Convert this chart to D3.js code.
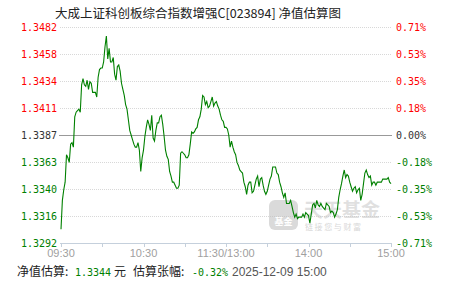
<!DOCTYPE html>
<html>
<head>
<meta charset="utf-8">
<script src="https://cdn.jsdelivr.net/npm/d3@7"></script>
<style>
  html, body { margin: 0; padding: 0; background: #fff; }
  svg { display: block; }
</style>
</head>
<body>
<svg id="chart" width="451" height="281"></svg>
<script>
// fund estimate info
const title = '大成上证科创板综合指数增强C[023894] 净值估算图'
const baseNav = 1.3387
const estNav = '1.3344'
const estPct = '-0.32%'
const estTime = '2025-12-09 15:00'

// y ticks (left = nav, right = pct)
const navTicks = ['1.3482', '1.3458', '1.3434', '1.3411', '1.3387', '1.3363', '1.3340', '1.3316', '1.3292']
const pctTicks = ['0.71%', '0.53%', '0.35%', '0.18%', '0.00%', '-0.18%', '-0.35%', '-0.53%', '-0.71%']
const pctMax = 0.71

// x axis: minute index 0..240 (lunch break collapsed)
const timeLabels = ['09:30', '10:30', '11:30/13:00', '14:00', '15:00']
const timeLabelMinutes = [0, 60, 120, 180, 240]

// estimated change in % for every minute
const pctValues = [
  -0.62, -0.43, -0.36, -0.31, -0.13, -0.15, -0.18, -0.06, -0.05, -0.08,
  0.12, 0.15, 0.16, 0.17, 0.15, 0.33, 0.37, 0.33, 0.32, 0.36,
  0.30, 0.35, 0.34, 0.28, 0.28, 0.28, 0.25, 0.38, 0.43, 0.44,
  0.44, 0.48, 0.58, 0.65, 0.50, 0.57, 0.48, 0.48, 0.51, 0.40,
  0.36, 0.45, 0.46, 0.42, 0.34, 0.30, 0.26, 0.20, 0.17, 0.10,
  0.03, 0.00, -0.03, -0.06, -0.08, -0.08, -0.05, -0.10, -0.24, -0.15,
  -0.10, -0.01, 0.05, 0.10, 0.07, 0.03, 0.13, -0.02, -0.04, 0.03,
  0.08, 0.08, 0.12, 0.13, 0.07, -0.01, -0.10, -0.14, -0.16, -0.24,
  -0.27, -0.31, -0.31, -0.33, -0.35, -0.35, -0.33, -0.12, -0.11, -0.12,
  -0.13, -0.15, -0.15, -0.13, -0.06, 0.02, 0.01, 0.02, 0.04, 0.05,
  0.10, 0.12, 0.17, 0.26, 0.25, 0.20, 0.22, 0.18, 0.19, 0.22,
  0.25, 0.19, 0.21, 0.22, 0.19, 0.17, 0.13, 0.10, 0.09, 0.05,
  0.05, 0.04, 0.00, -0.08, -0.04, -0.08, -0.11, -0.13, -0.18, -0.20,
  -0.23, -0.24, -0.25, -0.31, -0.34, -0.39, -0.33, -0.31, -0.31, -0.38,
  -0.37, -0.33, -0.29, -0.27, -0.34, -0.29, -0.28, -0.33, -0.37, -0.39,
  -0.37, -0.33, -0.29, -0.27, -0.21, -0.21, -0.21, -0.25, -0.26, -0.31,
  -0.34, -0.38, -0.41, -0.38, -0.45, -0.45, -0.45, -0.43, -0.47, -0.51,
  -0.54, -0.52, -0.55, -0.54, -0.54, -0.54, -0.52, -0.54, -0.51, -0.52,
  -0.53, -0.58, -0.52, -0.46, -0.45, -0.48, -0.43, -0.46, -0.47, -0.45,
  -0.47, -0.48, -0.49, -0.45, -0.46, -0.47, -0.51, -0.50, -0.51, -0.54,
  -0.52, -0.49, -0.41, -0.36, -0.32, -0.27, -0.23, -0.28, -0.26, -0.27,
  -0.31, -0.34, -0.37, -0.35, -0.34, -0.38, -0.36, -0.35, -0.43, -0.39,
  -0.32, -0.25, -0.23, -0.26, -0.28, -0.27, -0.33, -0.31, -0.31, -0.33,
  -0.31, -0.31, -0.31, -0.31, -0.29, -0.29, -0.29, -0.29, -0.28, -0.31,
  -0.32
]

const red = '#ff0000'
const green = '#008000'
const monoFont = '"DejaVu Sans Mono", "Liberation Mono", monospace'
const cjkFont = '"Noto Sans CJK SC", sans-serif'

const svg = d3.select('#chart')
const plot = { left: 61, right: 391, top: 27, bottom: 243 }

const x = d3.scaleLinear().domain([0, 240]).range([plot.left, plot.right])
const y = d3.scaleLinear().domain([-pctMax, pctMax]).range([plot.bottom, plot.top])
const tickPct = navTicks.map((d, i) => pctMax - i * pctMax / 4)

// title
svg.append('text')
  .attr('x', 198).attr('y', 18)
  .attr('text-anchor', 'middle')
  .style('font-family', cjkFont)
  .style('font-size', '12.5px')
  .style('fill', '#222')
  .text(title)

// grid
svg.append('g').selectAll('line')
  .data(tickPct.filter(d => Math.abs(d) > 1e-6 && d > -pctMax + 1e-6))
  .enter().append('line')
  .attr('x1', plot.left - 1).attr('x2', plot.right)
  .attr('y1', d => Math.round(y(d)) + 0.5).attr('y2', d => Math.round(y(d)) + 0.5)
  .attr('stroke', '#d8d8d8')
  .attr('stroke-dasharray', '1,1')

// watermark
const wm = svg.append('g').attr('opacity', 0.55)
wm.append('rect')
  .attr('x', 269).attr('y', 200).attr('width', 29).attr('height', 30).attr('rx', 6)
  .attr('fill', '#bdbdbd')
wm.append('text')
  .attr('x', 283.5).attr('y', 225).attr('text-anchor', 'middle')
  .style('font-family', cjkFont).style('font-size', '9px').style('font-weight', 'bold')
  .style('fill', '#fff').text('基金')
wm.append('text')
  .attr('x', 304).attr('y', 217)
  .style('font-family', cjkFont).style('font-size', '19px').style('font-weight', 'bold')
  .style('fill', '#c8c8c8').text('天天基金')
wm.append('text')
  .attr('x', 305).attr('y', 230)
  .style('font-family', cjkFont).style('font-size', '8px')
  .style('letter-spacing', '1.6px')
  .style('fill', '#b8b8b8').text('链接您与财富')

// zero line
svg.append('line')
  .attr('x1', plot.left - 2).attr('x2', plot.right + 1)
  .attr('y1', Math.round(y(0)) + 0.5).attr('y2', Math.round(y(0)) + 0.5)
  .attr('stroke', '#999').attr('stroke-width', 1)

// bottom axis
const axisColor = '#c5d0dc'
svg.append('line')
  .attr('x1', plot.left - 1).attr('x2', plot.right + 1)
  .attr('y1', plot.bottom + 0.5).attr('y2', plot.bottom + 0.5)
  .attr('stroke', axisColor)
svg.append('g').selectAll('line')
  .data(d3.range(0, 241, 30))
  .enter().append('line')
  .attr('x1', d => Math.round(x(d)) + 0.5).attr('x2', d => Math.round(x(d)) + 0.5)
  .attr('y1', plot.bottom).attr('y2', plot.bottom + 4)
  .attr('stroke', axisColor)

svg.append('g').selectAll('text')
  .data(timeLabels)
  .enter().append('text')
  .attr('x', (d, i) => x(timeLabelMinutes[i]))
  .attr('y', 257)
  .attr('text-anchor', 'middle')
  .style('font-family', '"Liberation Sans", Arial, sans-serif')
  .style('font-size', '11px')
  .style('fill', '#a0a0a0')
  .text(d => d)

const tickColor = (i) => i < 4 ? red : (i === 4 ? '#333' : green)

// left labels
svg.append('g').selectAll('text')
  .data(navTicks)
  .enter().append('text')
  .attr('x', 57)
  .attr('y', (d, i) => y(tickPct[i]) + 4)
  .attr('text-anchor', 'end')
  .style('font-family', monoFont)
  .style('font-size', '10px')
  .style('fill', (d, i) => tickColor(i))
  .text(d => d)

// right labels
svg.append('g').selectAll('text')
  .data(pctTicks)
  .enter().append('text')
  .attr('x', 396)
  .attr('y', (d, i) => y(tickPct[i]) + 4)
  .style('font-family', monoFont)
  .style('font-size', '10px')
  .style('fill', (d, i) => tickColor(i))
  .text(d => d)

// estimate line
const line = d3.line()
  .x((d, i) => x(i))
  .y(d => y(d))
svg.append('path')
  .datum(pctValues)
  .attr('d', line)
  .attr('fill', 'none')
  .attr('stroke', green)
  .attr('stroke-width', 1.1)

// footer
const foot = svg.append('g')
const footParts = [
  { t: '净值估算:', x: 17, c: '#222', f: cjkFont },
  { t: estNav, x: 75, c: green, f: monoFont },
  { t: '元', x: 114, c: '#222', f: cjkFont },
  { t: '估算张幅:', x: 133, c: '#222', f: cjkFont },
  { t: estPct, x: 192, c: green, f: monoFont },
  { t: estTime, x: 232, c: '#555', f: '"Liberation Sans", Arial, sans-serif' }
]
foot.selectAll('text')
  .data(footParts)
  .enter().append('text')
  .attr('x', d => d.x)
  .attr('y', 276)
  .style('font-family', d => d.f)
  .style('font-size', d => d.f === monoFont ? '10px' : '12px')
  .style('fill', d => d.c)
  .text(d => d.t)
</script>
</body>
</html>
